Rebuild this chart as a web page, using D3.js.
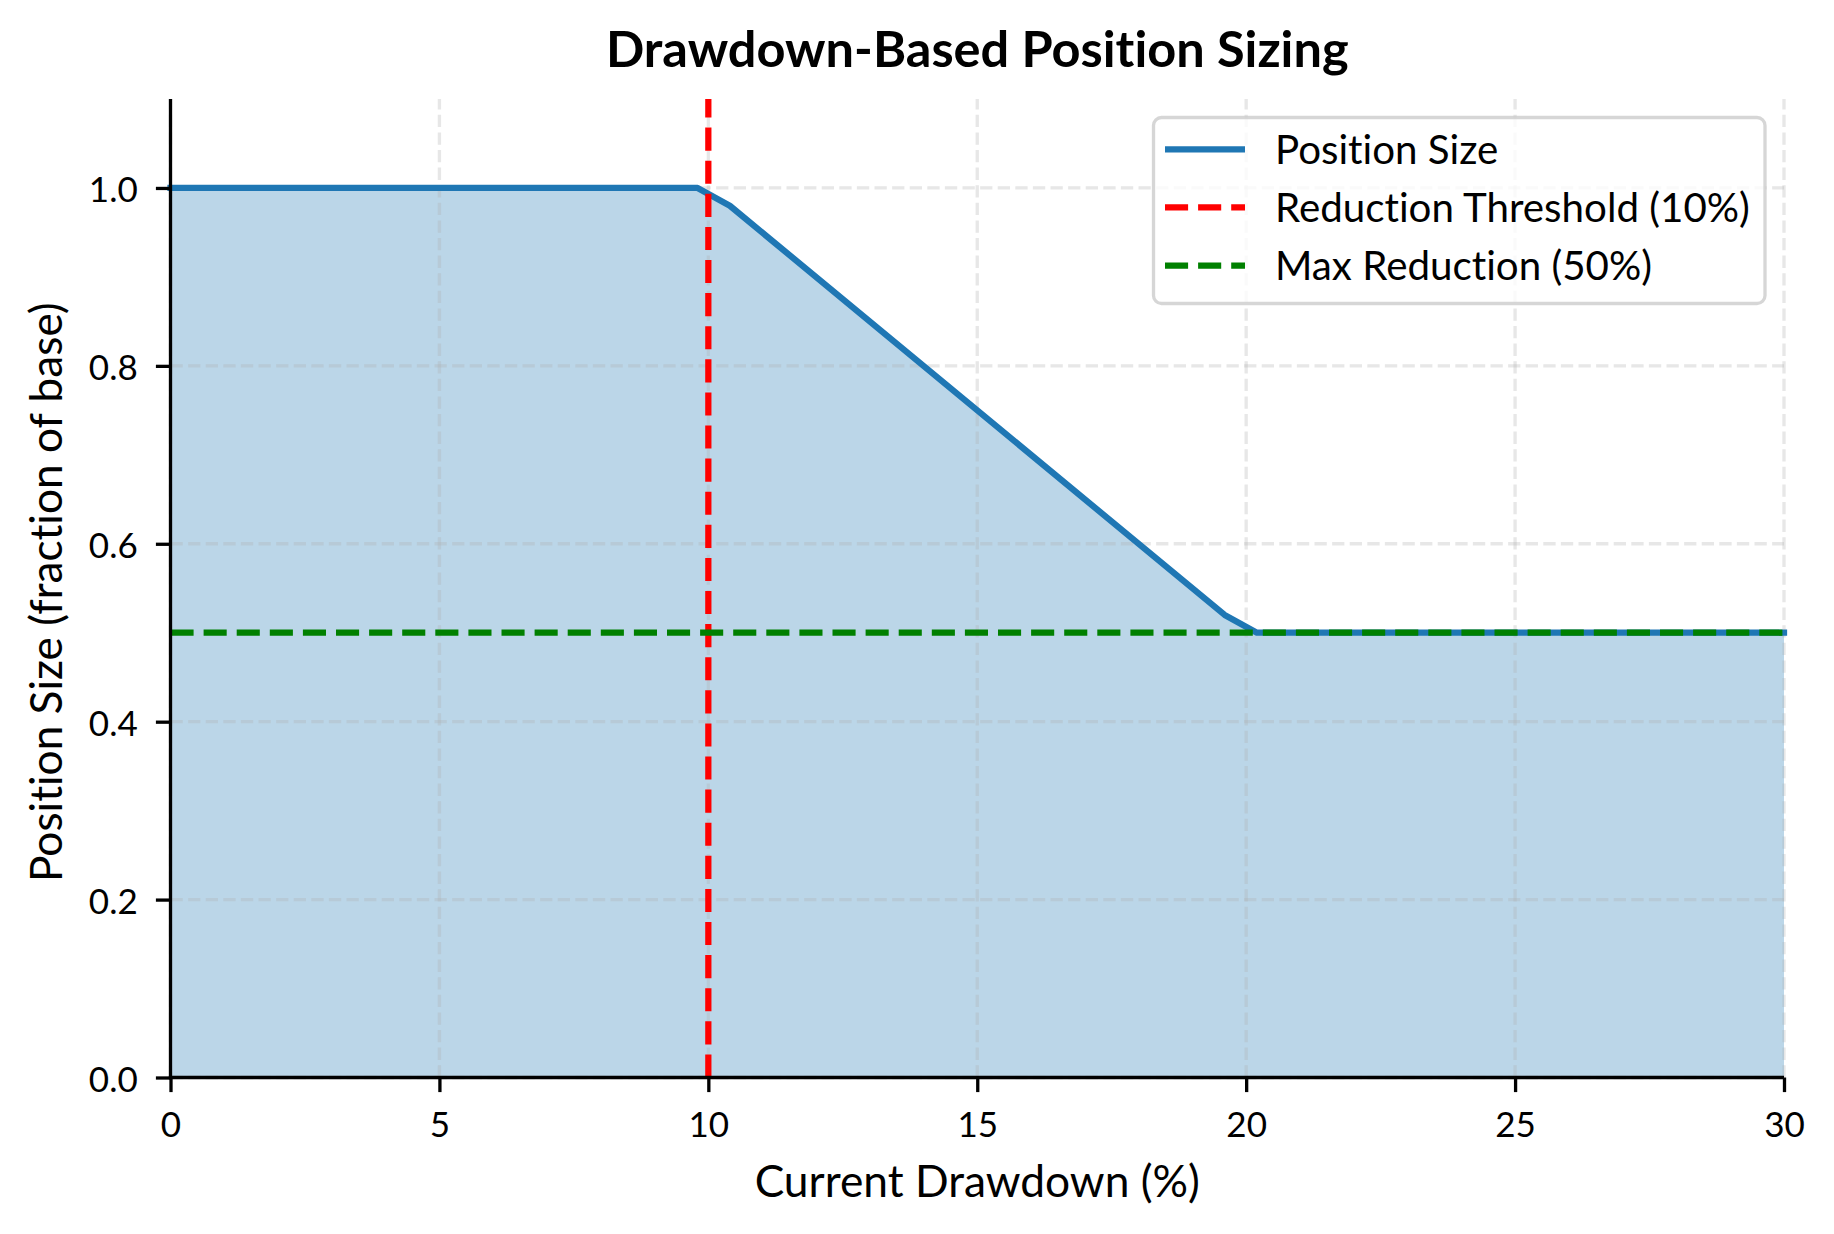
<!DOCTYPE html>
<html>
<head>
<meta charset="utf-8">
<script src="https://cdn.jsdelivr.net/npm/d3@7"></script>
<style>
  html, body { margin: 0; padding: 0; background: #ffffff; }
  svg { display: block; }
  text { font-family: Lato, "Open Sans", sans-serif; fill: #000; font-variant-ligatures: none; font-feature-settings: "liga" 0; }
</style>
</head>
<body>
<svg id="chart" width="1834" height="1234"></svg>
<script>
// ---- data ----
const drawdownPct = [0, 9.8, 10.4, 19.6, 20.2, 30];
const positionSize = [1.0, 1.0, 0.98, 0.52, 0.50, 0.50];
const reductionThreshold = 10;   // % drawdown
const maxReductionLevel = 0.5;   // fraction of base
const xTicks = [0, 5, 10, 15, 20, 25, 30];
const yTicks = [0.0, 0.2, 0.4, 0.6, 0.8, 1.0];
const xDomain = [0, 30];
const yDomain = [0, 1.1];
const legendLabels = ["Position Size", "Reduction Threshold (10%)", "Max Reduction (50%)"];
const titleText = "Drawdown-Based Position Sizing";
const xLabelText = "Current Drawdown (%)";
const yLabelText = "Position Size (fraction of base)";

// ---- layout ----
const W = 1834, H = 1234;
const L = 170.5, R = 1784, T = 99, B = 1077.5;
const blue = "#1f77b4";
const points = drawdownPct.map((d, i) => ({ x: d, y: positionSize[i] }));

const svg = d3.select("#chart");
svg.append("rect").attr("width", W).attr("height", H).attr("fill", "#fff");

const x = d3.scaleLinear().domain(xDomain).range([L, R]);
const y = d3.scaleLinear().domain(yDomain).range([B, T]);

// fill under curve
svg.append("path")
  .datum(points)
  .attr("d", d3.area().x(d => x(d.x)).y0(y(0)).y1(d => y(d.y)))
  .attr("fill", blue).attr("fill-opacity", 0.3).attr("stroke", "none");

// grid
const grid = svg.append("g").attr("stroke", "#b0b0b0").attr("stroke-opacity", 0.3)
  .attr("stroke-width", 3.3).attr("stroke-dasharray", "12.3,5.3");
grid.selectAll("line.gx").data(xTicks).join("line").attr("class", "gx")
  .attr("x1", d => x(d)).attr("x2", d => x(d)).attr("y1", B).attr("y2", T);
grid.selectAll("line.gy").data(yTicks).join("line").attr("class", "gy")
  .attr("x1", L).attr("x2", R).attr("y1", d => y(d)).attr("y2", d => y(d));

// main line
svg.append("path")
  .datum(points)
  .attr("d", d3.line().x(d => x(d.x)).y(d => y(d.y)))
  .attr("fill", "none").attr("stroke", blue).attr("stroke-width", 6.25)
  .attr("stroke-linejoin", "round").attr("stroke-linecap", "square");

// threshold line (vertical)
svg.append("line")
  .attr("x1", x(reductionThreshold)).attr("x2", x(reductionThreshold))
  .attr("y1", y(yDomain[0])).attr("y2", y(yDomain[1]))
  .attr("stroke", "#ff0000").attr("stroke-width", 6.25).attr("stroke-dasharray", "23.1,10");

// max reduction line (horizontal)
svg.append("line")
  .attr("x1", x(xDomain[0])).attr("x2", x(xDomain[1]))
  .attr("y1", y(maxReductionLevel)).attr("y2", y(maxReductionLevel))
  .attr("stroke", "#008000").attr("stroke-width", 6.25).attr("stroke-dasharray", "23.1,10");

// axes
const tickFont = 35;
const xAxis = svg.append("g").attr("transform", `translate(0,${B})`)
  .call(d3.axisBottom(x).tickValues(xTicks).tickFormat(d3.format("d")).tickSize(14.6).tickSizeOuter(0));
const yAxis = svg.append("g").attr("transform", `translate(${L},0)`)
  .call(d3.axisLeft(y).tickValues(yTicks).tickFormat(d3.format(".1f")).tickSize(14.6).tickSizeOuter(0));
[xAxis, yAxis].forEach(g => {
  g.select(".domain").attr("stroke", "#000").attr("stroke-width", 3.3);
  g.selectAll(".tick line").attr("stroke", "#000").attr("stroke-width", 3.3);
  g.selectAll(".tick text").attr("font-family", "Lato, sans-serif")
    .attr("font-size", tickFont).attr("fill", "#000");
});
xAxis.selectAll(".tick text").attr("y", 59.2).attr("dy", null);
yAxis.selectAll(".tick text").attr("x", -32.8).attr("y", 0).attr("dy", 14).attr("text-anchor", "end");
// extend the spines to cover the corner
yAxis.select(".domain").attr("d", `M0,${T}V${B + 1.65}`);
xAxis.select(".domain").attr("d", `M${L - 1.65},0H${R}`);

// title and labels
svg.append("text").attr("x", (L + R) / 2).attr("y", 67).attr("text-anchor", "middle")
  .attr("font-size", 50.5).attr("font-weight", "bold").text(titleText);
svg.append("text").attr("x", (L + R) / 2).attr("y", 1196.7).attr("text-anchor", "middle")
  .attr("font-size", 44.3).text(xLabelText);
svg.append("text").attr("transform", `translate(62,${(T + B) / 2 + 4}) rotate(-90)`)
  .attr("text-anchor", "middle").attr("font-size", 44.2).text(yLabelText);

// legend
const lg = svg.append("g");
lg.append("rect").attr("x", 1153.5).attr("y", 117.5).attr("width", 611.5).attr("height", 186)
  .attr("rx", 8).attr("ry", 8).attr("fill", "#fff").attr("fill-opacity", 0.8)
  .attr("stroke", "#cccccc").attr("stroke-opacity", 0.8).attr("stroke-width", 3.3);
const legendStyles = [
  { color: blue, dash: null },
  { color: "#ff0000", dash: "23.1,10" },
  { color: "#008000", dash: "23.1,10" }
];
legendLabels.forEach((lab, i) => {
  const ly = 149.4 + i * 58.05;
  lg.append("line").attr("x1", 1165).attr("x2", 1245).attr("y1", ly).attr("y2", ly)
    .attr("stroke", legendStyles[i].color).attr("stroke-width", 6.25)
    .attr("stroke-dasharray", legendStyles[i].dash);
  lg.append("text").attr("x", 1275).attr("y", ly + 14.6).attr("font-size", 40.3).text(lab);
});
</script>
</body>
</html>
